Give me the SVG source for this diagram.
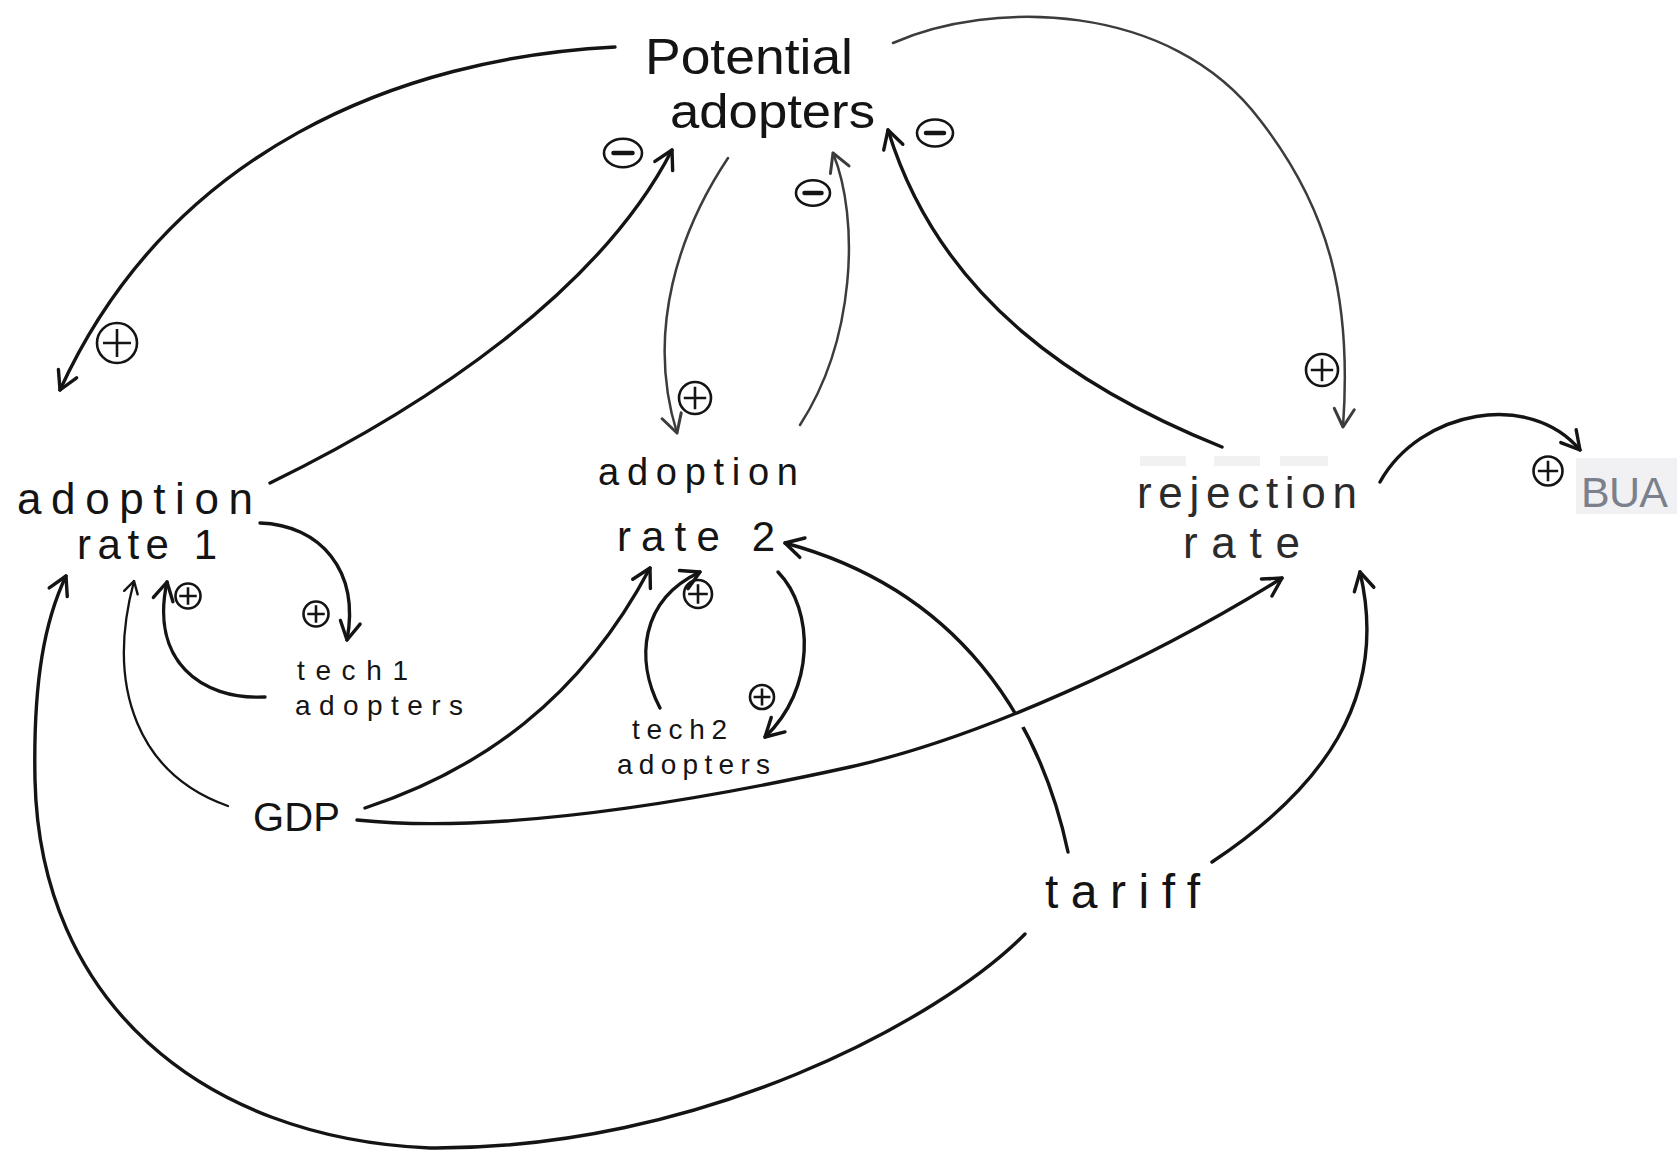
<svg xmlns="http://www.w3.org/2000/svg" xmlns:xlink="http://www.w3.org/1999/xlink" width="1677" height="1152" viewBox="0 0 1677 1152">
  <style>
    .lbl { font-family: "Liberation Sans", "DejaVu Sans", sans-serif; fill: #141414; }
    .rej { fill: #2b2b2b; }
    .bua { font-family: "Liberation Sans", "DejaVu Sans", sans-serif; fill: #7b808c; }
    .ln { fill: none; stroke: #141414; stroke-width: 3.4; stroke-linecap: round; stroke-linejoin: round; }
    .thin { stroke: #3c3c3c; stroke-width: 2.5; }
    .fine { stroke-width: 2.3; }
    .halo { fill: none; stroke: #ffffff; stroke-width: 16; }
    .sgn { fill: none; stroke: #141414; stroke-width: 2.6; }
    .bar { stroke: #141414; stroke-width: 4.5; stroke-linecap: round; }
  </style>
  <defs>
    <marker id="ah" viewBox="-24 -14 28 28" refX="0" refY="0" markerWidth="28" markerHeight="28" markerUnits="userSpaceOnUse" orient="auto">
      <path d="M-18,-10 L0,0 L-18,10" fill="none" stroke="#141414" stroke-width="3.4" stroke-linecap="round" stroke-linejoin="round"/>
    </marker>
    <marker id="ahg" viewBox="-24 -14 28 28" refX="0" refY="0" markerWidth="28" markerHeight="28" markerUnits="userSpaceOnUse" orient="auto">
      <path d="M-18,-10 L0,0 L-18,10" fill="none" stroke="#3c3c3c" stroke-width="3" stroke-linecap="round" stroke-linejoin="round"/>
    </marker>
    <marker id="ahs" viewBox="-16 -10 20 20" refX="0" refY="0" markerWidth="20" markerHeight="20" markerUnits="userSpaceOnUse" orient="auto">
      <path d="M-12,-7 L0,0 L-12,7" fill="none" stroke="#141414" stroke-width="2.4" stroke-linecap="round" stroke-linejoin="round"/>
    </marker>
    <!-- polarity signs, drawn at radius 10 and scaled in place -->
    <g id="pos">
      <circle r="10" class="sgn" vector-effect="non-scaling-stroke"/>
      <path d="M-7,0 H7 M0,-7 V7" class="sgn" vector-effect="non-scaling-stroke"/>
    </g>
    <g id="neg">
      <ellipse rx="10" ry="7.5" class="sgn" vector-effect="non-scaling-stroke"/>
      <path d="M-5,0 H5" class="bar" vector-effect="non-scaling-stroke"/>
    </g>
  </defs>

  <rect width="1677" height="1152" fill="#ffffff"/>

  <!-- faint erasure marks above "rejection" and behind BUA -->
  <g id="marks">
    <rect x="1140" y="456" width="46" height="10" fill="#f1f1f1"/>
    <rect x="1214" y="456" width="46" height="10" fill="#f1f1f1"/>
    <rect x="1280" y="456" width="48" height="10" fill="#f1f1f1"/>
    <rect x="1576" y="458" width="101" height="56" fill="#f1f1f3"/>
  </g>

  <g id="connectors">
    <!-- Potential adopters -> adoption rate 1 -->
    <path class="ln" d="M615,47 C400,58 170,150 60,390" marker-end="url(#ah)"/>
    <!-- Potential adopters -> rejection rate -->
    <path class="ln thin" d="M893,43 C990,0 1170,0 1260,120 C1330,210 1352,300 1343,427" marker-end="url(#ahg)"/>
    <!-- adoption rate 1 -> Potential adopters -->
    <path class="ln" d="M270,483 C430,405 600,290 672,150" marker-end="url(#ah)"/>
    <!-- Potential adopters -> adoption rate 2 -->
    <path class="ln thin" d="M728,158 C680,230 645,330 677,433" marker-end="url(#ahg)"/>
    <!-- adoption rate 2 -> Potential adopters -->
    <path class="ln thin" d="M800,425 C855,340 860,220 833,153" marker-end="url(#ahg)"/>
    <!-- rejection rate -> Potential adopters -->
    <path class="ln" d="M1222,447 C1080,390 940,300 888,130" marker-end="url(#ah)"/>
    <!-- adoption rate 1 -> tech1 adopters -->
    <path class="ln" d="M260,523 C320,525 360,570 347,640" marker-end="url(#ah)"/>
    <!-- tech1 adopters -> adoption rate 1 -->
    <path class="ln" d="M265,697 C200,700 150,660 167,582" marker-end="url(#ah)"/>
    <!-- GDP -> adoption rate 1 -->
    <path class="ln fine" d="M228,806 C140,775 105,690 134,581" marker-end="url(#ahs)"/>
    <!-- tariff -> adoption rate 1 (outer loop) -->
    <path class="ln" d="M1025,934 C940,1020 700,1150 430,1148 C200,1138 40,1000 35,780 C33,680 45,620 66,576" marker-end="url(#ah)"/>
    <!-- adoption rate 2 -> tech2 adopters -->
    <path class="ln" d="M778,572 C815,610 815,690 765,737" marker-end="url(#ah)"/>
    <!-- tech2 adopters -> adoption rate 2 -->
    <path class="ln" d="M660,708 C635,660 640,600 700,572" marker-end="url(#ah)"/>
    <!-- GDP -> adoption rate 2 -->
    <path class="ln" d="M365,808 C480,770 580,700 650,568" marker-end="url(#ah)"/>
    <!-- tariff -> adoption rate 2 -->
    <path class="ln" d="M1068,852 C1040,720 960,590 785,543" marker-end="url(#ah)"/>
    <!-- GDP -> rejection rate (passes over the tariff line) -->
    <path class="halo" d="M900,756 C960,742 1020,722 1080,695"/>
    <path class="ln" d="M357,820 C500,835 700,800 850,767 C980,738 1150,660 1282,578" marker-end="url(#ah)"/>
    <!-- tariff -> rejection rate -->
    <path class="ln" d="M1212,862 C1320,790 1390,700 1360,572" marker-end="url(#ah)"/>
    <!-- rejection rate -> BUA -->
    <path class="ln" d="M1380,482 C1420,410 1530,390 1580,450" marker-end="url(#ah)"/>
  </g>

  <g id="signs">
    <use xlink:href="#neg" transform="translate(623,153) scale(1.9)"/>
    <use xlink:href="#neg" transform="translate(813,193) scale(1.7)"/>
    <use xlink:href="#neg" transform="translate(935,133) scale(1.8)"/>
    <use xlink:href="#pos" transform="translate(117,343) scale(2)"/>
    <use xlink:href="#pos" transform="translate(695,398) scale(1.6)"/>
    <use xlink:href="#pos" transform="translate(1322,370) scale(1.6)"/>
    <use xlink:href="#pos" transform="translate(1548,471) scale(1.45)"/>
    <use xlink:href="#pos" transform="translate(188,596) scale(1.25)"/>
    <use xlink:href="#pos" transform="translate(316,614) scale(1.25)"/>
    <use xlink:href="#pos" transform="translate(698,594) scale(1.4)"/>
    <use xlink:href="#pos" transform="translate(762,697) scale(1.2)"/>
  </g>

  <g id="potential-adopters">
    <text class="lbl" x="645" y="74" font-size="50" textLength="208" lengthAdjust="spacingAndGlyphs">Potential</text>
    <text class="lbl" x="670" y="128" font-size="48" textLength="205" lengthAdjust="spacingAndGlyphs">adopters</text>
  </g>
  <g id="adoption-rate-1">
    <text class="lbl" x="17" y="514" font-size="44" textLength="236">adoption</text>
    <text class="lbl" x="77" y="559" font-size="42" textLength="140">rate 1</text>
  </g>
  <g id="adoption-rate-2">
    <text class="lbl" x="598" y="485" font-size="38" textLength="200">adoption</text>
    <text class="lbl" x="617" y="551" font-size="42" textLength="158">rate 2</text>
  </g>
  <g id="rejection-rate">
    <text class="lbl rej" x="1137" y="508" font-size="44" textLength="220">rejection</text>
    <text class="lbl rej" x="1183" y="558" font-size="44" textLength="117">rate</text>
  </g>
  <g id="tech1-adopters">
    <text class="lbl" x="297" y="680" font-size="28" textLength="111">tech1</text>
    <text class="lbl" x="295" y="715" font-size="28" textLength="168">adopters</text>
  </g>
  <g id="tech2-adopters">
    <text class="lbl" x="632" y="739" font-size="28" textLength="95">tech2</text>
    <text class="lbl" x="617" y="774" font-size="28" textLength="153">adopters</text>
  </g>
  <g id="gdp">
    <text class="lbl" x="253" y="831" font-size="40" textLength="87">GDP</text>
  </g>
  <g id="tariff">
    <text class="lbl" x="1045" y="908" font-size="48" textLength="155">tariff</text>
  </g>
  <g id="bua">
    <text class="bua" x="1581" y="507" font-size="43" textLength="87">BUA</text>
  </g>
</svg>
